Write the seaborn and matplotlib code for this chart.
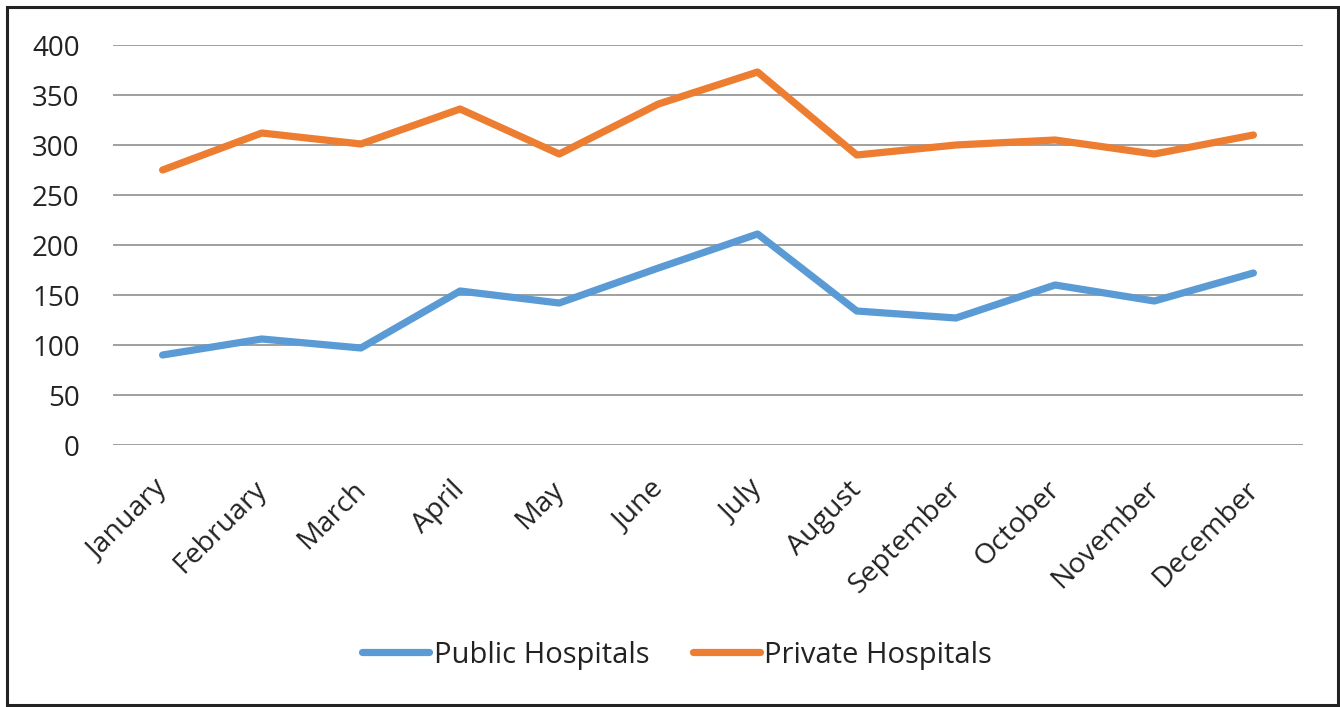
import pandas as pd
import seaborn as sns
import matplotlib.pyplot as plt
from matplotlib.patches import Rectangle
from matplotlib.transforms import ScaledTranslation

# values
months = ['January', 'February', 'March', 'April', 'May', 'June', 'July',
          'August', 'September', 'October', 'November', 'December']
public_hospitals = [90, 106, 97, 154, 142, 177, 211, 134, 127, 160, 144, 172]
private_hospitals = [275, 312, 301, 336, 291, 341, 373, 290, 300, 305, 291, 310]
series_names = ['Public Hospitals', 'Private Hospitals']
colors = ['#5B9BD5', '#ED7D31']
y_ticks = [0, 50, 100, 150, 200, 250, 300, 350, 400]

df = pd.DataFrame({
    'month': months * 2,
    'pos': list(range(len(months))) * 2,
    'value': public_hospitals + private_hospitals,
    'series': [series_names[0]] * len(months) + [series_names[1]] * len(months),
})

sns.set_style('white')
plt.rcParams['font.family'] = ['Open Sans', 'DejaVu Sans']

fig = plt.figure(figsize=(13.4, 7.07), dpi=100)
ax = fig.add_axes([113 / 1340, 1 - 445 / 707, 1190 / 1340, 400 / 707])

sns.lineplot(data=df, x='pos', y='value', hue='series', hue_order=series_names,
             palette=colors, linewidth=5.2, ax=ax, solid_capstyle='round')

ax.set_xlim(-0.5, len(months) - 0.5)
ax.set_ylim(0, 400)
ax.set_yticks(y_ticks)
ax.set_xticks(range(len(months)))
ax.set_xticklabels(months, rotation=45, ha='right', rotation_mode='anchor')
ax.tick_params(axis='y', length=0, pad=24, labelsize=20, labelcolor='#222222')
ax.tick_params(axis='x', length=0, pad=22, labelsize=20.5, labelcolor='#222222')
# nudge month labels a little to the left, as in the reference
shift = ScaledTranslation(-9 / 100, 0, fig.dpi_scale_trans)
for lbl in ax.get_xticklabels():
    lbl.set_transform(lbl.get_transform() + shift)
ax.set_xlabel('')
ax.set_ylabel('')
ax.yaxis.grid(True, color='#A0A0A0', linewidth=1.4)
ax.xaxis.grid(False)
for s in ax.spines.values():
    s.set_visible(False)

ax.legend(loc='center', bbox_to_anchor=(677 / 1340, 1 - 655 / 707),
          bbox_transform=fig.transFigure, ncol=2, frameon=False, fontsize=21,
          handlelength=2.3, handletextpad=0.15, columnspacing=1.5,
          labelcolor='#222222')

# outer frame around the chart
fig.patches.append(Rectangle((7 / 1340, 2 / 707), 1331 / 1340, 698 / 707,
                             transform=fig.transFigure, fill=False,
                             edgecolor='#222222', linewidth=2.2))

fig.savefig('out.png', dpi=100)
